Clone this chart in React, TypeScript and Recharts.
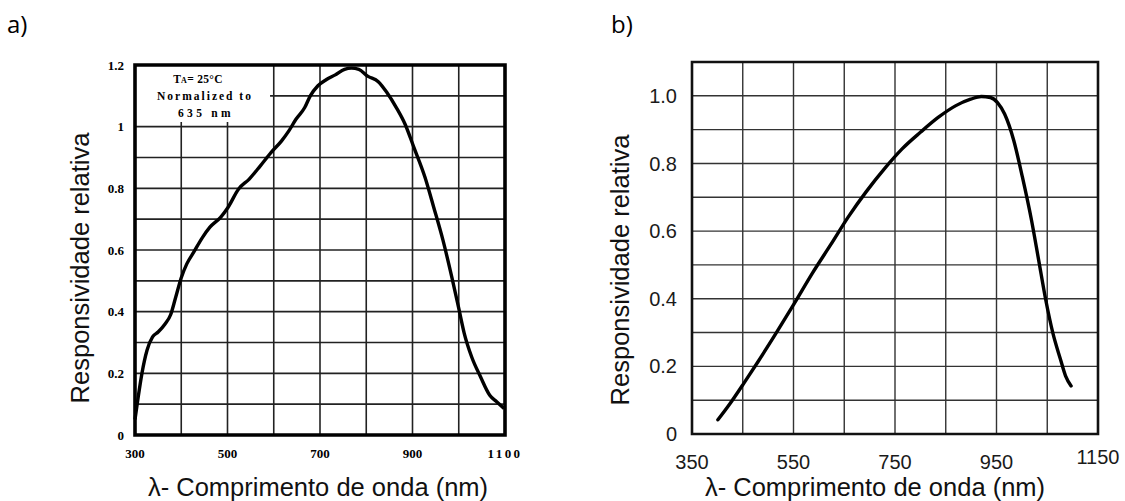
import React from 'react';
import { LineChart, Line, XAxis, YAxis, CartesianGrid, ReferenceArea, Label } from 'recharts';

// a) relative responsivity
const aWavelength = [300, 307, 315, 326, 338, 350, 365, 377, 388, 400, 412, 427, 446, 462, 485, 501, 524, 547, 571, 594, 617, 633, 648, 667, 679, 695, 714, 733, 753, 768, 784, 803, 826, 845, 865, 884, 903, 927, 946, 966, 985, 1001, 1012, 1028, 1047, 1067, 1082, 1098];
const aResponse = [0.05, 0.124, 0.2, 0.275, 0.318, 0.334, 0.36, 0.39, 0.447, 0.51, 0.555, 0.593, 0.641, 0.674, 0.706, 0.738, 0.798, 0.83, 0.873, 0.916, 0.954, 0.987, 1.024, 1.062, 1.1, 1.132, 1.153, 1.168, 1.186, 1.19, 1.186, 1.164, 1.146, 1.11, 1.062, 1.008, 0.933, 0.836, 0.738, 0.631, 0.512, 0.404, 0.329, 0.253, 0.189, 0.129, 0.108, 0.086];

// b) second sensor
const bWavelength = [401, 424, 453, 481, 516, 552, 587, 623, 658, 693, 729, 764, 800, 835, 870, 899, 920, 938, 952, 966, 984, 1001, 1019, 1033, 1047, 1061, 1076, 1086, 1097];
const bResponse = [0.042, 0.088, 0.152, 0.216, 0.299, 0.387, 0.475, 0.559, 0.642, 0.716, 0.784, 0.843, 0.892, 0.936, 0.971, 0.99, 0.998, 0.995, 0.98, 0.946, 0.868, 0.76, 0.632, 0.515, 0.397, 0.299, 0.221, 0.172, 0.142];

// ticks (grid every step, labels every other one)
const aXTicks = [300, 400, 500, 600, 700, 800, 900, 1000, 1100];
const aXLabels = ['300', '', '500', '', '700', '', '900', '', '1100'];
const aYTicks = [0, 0.1, 0.2, 0.3, 0.4, 0.5, 0.6, 0.7, 0.8, 0.9, 1, 1.1, 1.2];
const aYLabels = ['0', '', '0.2', '', '0.4', '', '0.6', '', '0.8', '', '1', '', '1.2'];

const bXTicks = [350, 450, 550, 650, 750, 850, 950, 1050, 1150];
const bXLabels = ['350', '', '550', '', '750', '', '950', '', '1150'];
const bYTicks = [0, 0.1, 0.2, 0.3, 0.4, 0.5, 0.6, 0.7, 0.8, 0.9, 1.0, 1.1];
const bYLabels = ['0', '', '0.2', '', '0.4', '', '0.6', '', '0.8', '', '1.0', ''];

const noteLines = ['= 25°C', 'Normalized to', '635 nm'];

const yTitle = 'Responsividade relativa';
const xTitle = 'λ- Comprimento de onda (nm)';

const dataA = aWavelength.map((w, i) => ({ w, r: aResponse[i] }));
const dataB = bWavelength.map((w, i) => ({ w, r: bResponse[i] }));

const sans = "'Liberation Sans', Arial, sans-serif";
const serif = "'Liberation Serif', 'Times New Roman', serif";

const NoteLabel = (props: any) => {
  const { viewBox } = props;
  const cx = viewBox.x + viewBox.width / 2;
  const top = viewBox.y;
  return (
    <g fontFamily={serif} fontWeight="bold" fontSize={11.5} fill="#000" textAnchor="middle">
      <text x={cx - 5} y={top + 18} letterSpacing={0.3}>
        T<tspan fontSize={8}>A</tspan>
        {noteLines[0]}
      </text>
      <text x={cx + 2} y={top + 35} letterSpacing={2}>{noteLines[1]}</text>
      <text x={cx + 3} y={top + 52} letterSpacing={3.3}>{noteLines[2]}</text>
    </g>
  );
};

const ATick = (props: any) => {
  const { x, y, index } = props;
  const label = aXLabels[index];
  if (!label) return null;
  return (
    <text x={x} y={y} dy={9} textAnchor="middle" fontFamily={serif} fontWeight="bold" fontSize={13} fill="#000"
      letterSpacing={label.length > 3 ? 2.4 : 0}>
      {label}
    </text>
  );
};

// last label of b sits a little higher in the source figure
const BTick = (props: any) => {
  const { x, y, index } = props;
  const label = bXLabels[index];
  if (!label) return null;
  return (
    <text x={x} y={y} dy={index === bXLabels.length - 1 ? 10 : 15} textAnchor="middle" fontFamily={sans}
      fontSize={20} fill="#1a1a1a">
      {label}
    </text>
  );
};

function ChartA() {
  return (
    <LineChart width={560} height={501} data={dataA} margin={{ top: 65, right: 55, left: 0, bottom: 0 }}>
      <CartesianGrid stroke="#222" strokeWidth={1.6} />
      <XAxis dataKey="w" type="number" domain={[300, 1100]} ticks={aXTicks} interval={0} height={66}
        axisLine={false} tickLine={false} tickSize={0} tickMargin={14} tick={<ATick />}>
        <Label value={xTitle} position="insideBottom" offset={5} dx={-2}
          style={{ fontFamily: sans, fontSize: 25.5, fill: '#111' }} />
      </XAxis>
      <YAxis type="number" domain={[0, 1.2]} ticks={aYTicks} interval={0} width={135}
        axisLine={false} tickLine={false} tickSize={0} tickMargin={11}
        tickFormatter={(_v: number, i: number) => aYLabels[i]}
        tick={{ fontFamily: serif, fontWeight: 'bold', fontSize: 13, fill: '#000' }}>
        <Label value={yTitle} position="insideLeft" angle={-90} offset={80} dy={18}
          style={{ fontFamily: sans, fontSize: 25.5, fill: '#111', textAnchor: 'middle' }} />
      </YAxis>
      <ReferenceArea x1={302} x2={592} y1={1.015} y2={1.2} fill="#fff" fillOpacity={1} stroke="none"
        label={(p: any) => <NoteLabel {...p} />} />
      <ReferenceArea x1={300} x2={1100} y1={0} y2={1.2} fill="none" stroke="#000" strokeWidth={3.6} />
      <Line dataKey="r" type="monotone" stroke="#000" strokeWidth={3.4} dot={false} isAnimationActive={false} />
    </LineChart>
  );
}

function ChartB() {
  return (
    <LineChart width={565} height={501} data={dataB} margin={{ top: 62, right: 27, left: 0, bottom: 0 }}>
      <CartesianGrid stroke="#333" strokeWidth={1.4} />
      <XAxis dataKey="w" type="number" domain={[350, 1150]} ticks={bXTicks} interval={0} height={67}
        axisLine={false} tickLine={false} tickSize={0} tickMargin={20} tick={<BTick />}>
        <Label value={xTitle} position="insideBottom" offset={5} dx={-20}
          style={{ fontFamily: sans, fontSize: 25.5, fill: '#111' }} />
      </XAxis>
      <YAxis type="number" domain={[0, 1.1]} ticks={bYTicks} interval={0} width={132}
        axisLine={false} tickLine={false} tickSize={0} tickMargin={15}
        tickFormatter={(_v: number, i: number) => bYLabels[i]}
        tick={{ fontFamily: sans, fontSize: 20, fill: '#1a1a1a' }}>
        <Label value={yTitle} position="insideLeft" angle={-90} offset={60} dy={22}
          style={{ fontFamily: sans, fontSize: 25.5, fill: '#111', textAnchor: 'middle' }} />
      </YAxis>
      <ReferenceArea x1={350} x2={1150} y1={0} y2={1.1} fill="none" stroke="#111" strokeWidth={2.6} />
      <Line dataKey="r" type="monotone" stroke="#000" strokeWidth={3.4} strokeLinecap="round" dot={false}
        isAnimationActive={false} />
    </LineChart>
  );
}

export default function App() {
  const panel: React.CSSProperties = {
    position: 'absolute', top: 11, fontFamily: "'Open Sans', sans-serif", fontSize: 24, lineHeight: '26px', color: '#000',
  };
  return (
    <div style={{ position: 'absolute', left: 0, top: 0, width: 1125, height: 501, background: '#fff', overflow: 'hidden' }}>
      <div style={{ ...panel, left: 7 }}>a)</div>
      <div style={{ ...panel, left: 611 }}>b)</div>
      <div style={{ position: 'absolute', left: 0, top: 0 }}>
        <ChartA />
      </div>
      <div style={{ position: 'absolute', left: 560, top: 0 }}>
        <ChartB />
      </div>
    </div>
  );
}
